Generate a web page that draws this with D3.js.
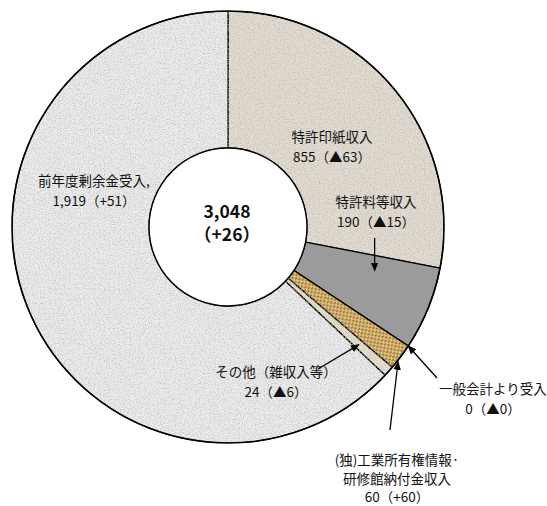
<!DOCTYPE html>
<html>
<head>
<meta charset="utf-8">
<script src="https://cdn.jsdelivr.net/npm/d3@7"></script>
<style>
  html, body { margin: 0; padding: 0; background: #ffffff; }
  svg { display: block; }
  text { font-family: "Noto Sans CJK JP", "Noto Sans", sans-serif; fill: #111; }
</style>
</head>
<body>
<svg id="chart" width="547" height="506"></svg>
<script>
// Revenue breakdown (億円), clockwise from 12 o'clock
const categories = ["特許印紙収入", "特許料等収入", "一般会計より受入",
  "(独)工業所有権情報·研修館納付金収入", "その他（雑収入等）", "前年度剰余金受入"];
const values = [855, 190, 0, 60, 24, 1919];
const changes = ["▲63", "▲15", "▲0", "+60", "▲6", "+51"];
const totalValue = "3,048";
const totalChange = "（+26）";

// label text lines per category
const labelLines = [
  ["特許印紙収入"],
  ["特許料等収入"],
  ["一般会計より受入"],
  ["(独)工業所有権情報·", "研修館納付金収入"],
  ["その他（雑収入等）"],
  ["前年度剰余金受入,"]
];

const fills = ["#e2dcd0", "#9b9b9b", "#cccccc", "url(#weave)", "#e7dfca", "#ebebeb"];

const W = 547, H = 506;
const cx = 228, cy = 227, rOuter = 216, rInner = 79;

const svg = d3.select("#chart");
const defs = svg.append("defs");

// paper grain for the flat fills
const grain = defs.append("filter").attr("id", "grain")
  .attr("x", 0).attr("y", 0).attr("width", "100%").attr("height", "100%");
grain.append("feTurbulence").attr("type", "fractalNoise")
  .attr("baseFrequency", 0.8).attr("numOctaves", 2).attr("seed", 7).attr("result", "noise");
grain.append("feColorMatrix").attr("in", "noise").attr("type", "matrix")
  .attr("values", "0 0 0 0 0.42  0 0 0 0 0.42  0 0 0 0 0.42  0 0 0 1.8 -0.8")
  .attr("result", "speck");
grain.append("feComposite").attr("in", "speck").attr("in2", "SourceGraphic")
  .attr("operator", "in").attr("result", "speckIn");
const merge = grain.append("feMerge");
merge.append("feMergeNode").attr("in", "SourceGraphic");
merge.append("feMergeNode").attr("in", "speckIn");

// woven golden hatch
const weave = defs.append("pattern").attr("id", "weave")
  .attr("patternUnits", "userSpaceOnUse").attr("width", 5).attr("height", 5)
  .attr("patternTransform", "rotate(-35)");
weave.append("rect").attr("width", 5).attr("height", 5).attr("fill", "#d3b06b");
weave.append("path").attr("d", "M0,1.2 H2.5 M2.5,3.7 H5")
  .attr("stroke", "#8c6a2e").attr("stroke-width", 1.2);
weave.append("path").attr("d", "M1.2,2.5 V5 M3.7,0 V2.5")
  .attr("stroke", "#edd69e").attr("stroke-width", 1);

// arrowhead
defs.append("marker").attr("id", "arrow")
  .attr("viewBox", "0 -5 10 10").attr("refX", 9).attr("refY", 0)
  .attr("markerUnits", "userSpaceOnUse")
  .attr("markerWidth", 9).attr("markerHeight", 9).attr("orient", "auto")
  .append("path").attr("d", "M0,-4.2 L10,0 L0,4.2 Z").attr("fill", "#000");

const data = categories.map((c, i) => ({ name: c, value: values[i], change: changes[i], fill: fills[i], lines: labelLines[i] }));

const pie = d3.pie().sort(null).value(d => d.value)
  .startAngle(0).endAngle(2 * Math.PI);
const arcs = pie(data);
const arc = d3.arc().innerRadius(rInner).outerRadius(rOuter);

const g = svg.append("g").attr("transform", `translate(${cx},${cy})`);

// slices
g.selectAll("path.slice")
  .data(arcs)
  .join("path")
  .attr("class", "slice")
  .attr("d", arc)
  .attr("fill", d => d.data.fill)
  .attr("filter", (d, i) => (i === 0 || i === 5 || i === 4) ? "url(#grain)" : null)
  .attr("stroke", "#000")
  .attr("stroke-width", 1.3)
  .attr("stroke-linejoin", "round");

// ring outlines
g.append("circle").attr("r", rOuter).attr("fill", "none").attr("stroke", "#000").attr("stroke-width", 1.6);
g.append("circle").attr("r", rInner).attr("fill", "#fff").attr("stroke", "#000").attr("stroke-width", 1.4);

// polar helper: angle clockwise from 12 o'clock
const polar = (a, r) => [cx + r * Math.sin(a), cy - r * Math.cos(a)];
const mid = d => (d.startAngle + d.endAngle) / 2;
const along = (d, f) => d.startAngle + (d.endAngle - d.startAngle) * f;

// label placement (text anchor points), line spacing and arrow tails
const labelPos = [
  { x: 332, y: 142, lh: 20, tail: null },
  { x: 376, y: 207, lh: 20, tail: d => [polar(along(d, 0.25), 153)[0], 238], tip: d => polar(along(d, 0.25), 153) },
  { x: 493, y: 394, lh: 20, tail: () => [437, 378], tip: d => polar(d.startAngle, rOuter) },
  { x: 397, y: 465, lh: 18.5, tail: () => [390, 430], tip: d => polar(along(d, 0.7), rOuter + 1) },
  { x: 276, y: 377, lh: 20, tail: () => [318, 369], tip: d => polar(mid(d), 176) },
  { x: 94, y: 186, lh: 20, tail: null }
];

const labels = svg.append("g");
arcs.forEach((d, i) => {
  const p = labelPos[i];
  const lines = d.data.lines.concat([`${d3.format(",")(d.data.value)}（${d.data.change}）`]);
  const t = labels.append("text")
    .attr("text-anchor", "middle")
    .attr("font-size", 13.5);
  lines.forEach((ln, k) => {
    t.append("tspan").attr("x", p.x).attr("y", p.y + k * p.lh).text(ln);
  });
  if (p.tail) {
    const tail = p.tail(d);
    const tip = p.tip(d);
    labels.append("line")
      .attr("x1", tail[0]).attr("y1", tail[1])
      .attr("x2", tip[0]).attr("y2", tip[1])
      .attr("stroke", "#000").attr("stroke-width", 1.3)
      .attr("marker-end", "url(#arrow)");
  }
});

// total in the hole
const center = svg.append("text").attr("text-anchor", "middle")
  .attr("font-family", "'Liberation Sans', Arial, sans-serif")
  .attr("font-weight", "bold").attr("font-size", 17.5);
center.append("tspan").attr("x", cx - 1).attr("y", cy - 9).text(totalValue);
center.append("tspan").attr("x", cx - 1).attr("y", cy + 14).text(totalChange)
  .attr("font-family", "'Noto Sans CJK JP', sans-serif");
</script>
</body>
</html>
